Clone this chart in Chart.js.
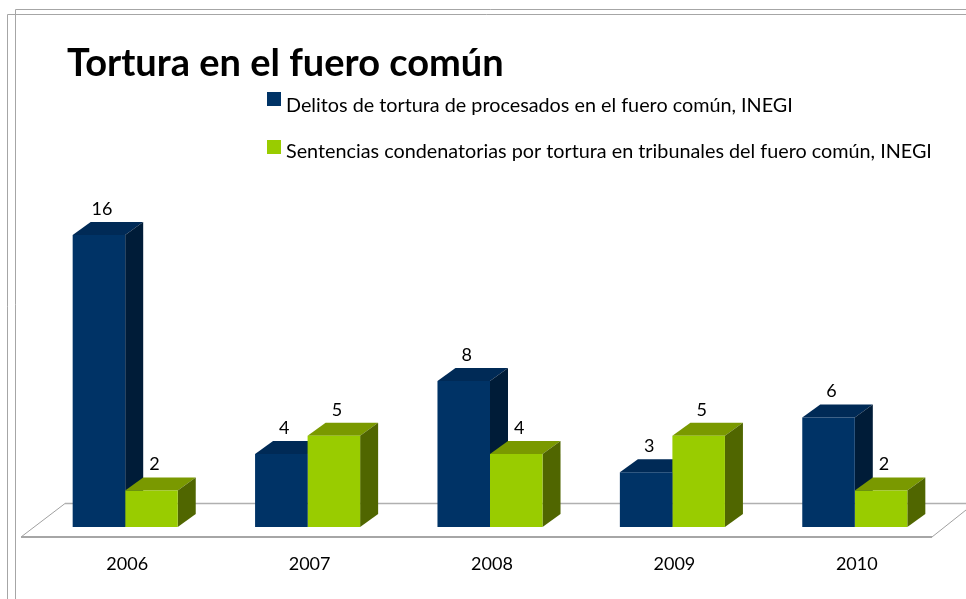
<!DOCTYPE html>
<html>
<head>
<meta charset="utf-8">
<title>Tortura en el fuero común</title>
<script src="https://cdn.jsdelivr.net/npm/chart.js@4"></script>
<style>
    html, body { margin: 0; padding: 0; background: #fff; }
    canvas { display: block; }
</style>
</head>
<body>
<canvas id="grafica" width="966" height="599"></canvas>
<script>
const years = ['2006', '2007', '2008', '2009', '2010'];
const delitos = [16, 4, 8, 3, 6];
const sentencias = [2, 5, 4, 5, 2];
const serieDelitos = 'Delitos de tortura de procesados en el fuero común, INEGI';
const serieSentencias = 'Sentencias condenatorias por tortura en tribunales del fuero común, INEGI';
const titulo = 'Tortura en el fuero común';

const FONT = 'Lato, Carlito, Calibri, sans-serif';
const DEPTH_X = 18;
const DEPTH_Y = 13;

// faces of each bar: top colour, side colour
const faces = [
    { top: '#002a56', side: '#001c38' },
    { top: '#7a9900', side: '#506600' }
];

function poly(ctx, pts, color) {
    ctx.fillStyle = color;
    ctx.beginPath();
    pts.forEach((p, i) => i === 0 ? ctx.moveTo(p[0], p[1]) : ctx.lineTo(p[0], p[1]));
    ctx.closePath();
    ctx.fill();
}

function line(ctx, x1, y1, x2, y2, width, color) {
    ctx.strokeStyle = color;
    ctx.lineWidth = width;
    ctx.beginPath();
    ctx.moveTo(x1, y1);
    ctx.lineTo(x2, y2);
    ctx.stroke();
}

const look3d = {
    id: 'look3d',
    afterLayout(chart) {
        chart.titleBlock.left = 67;
    },
    beforeDraw(chart) {
        const ctx = chart.ctx;
        ctx.save();
        // the two frames behind the chart
        line(ctx, 7.5, 14.5, 7.5, 599, 1, '#a6a6a6');
        line(ctx, 7.5, 14.5, 966, 14.5, 1, '#a6a6a6');
        line(ctx, 15.5, 9.5, 15.5, 599, 1, '#a6a6a6');
        line(ctx, 15.5, 9.5, 966, 9.5, 1, '#a6a6a6');
        // floor
        const b = chart.chartArea.bottom;
        line(ctx, 65, b - 23.5, 966, b - 23.5, 1.5, '#b0b0b0');
        line(ctx, 21, b + 10, 65, b - 23.5, 1, '#a0a0a0');
        line(ctx, 932, b + 10, 966, b - 17, 1, '#a0a0a0');
        line(ctx, 21, b + 10, 932, b + 10, 2, '#a6a6a6');
        ctx.restore();
    },
    beforeDatasetsDraw(chart) {
        // chart.js paints the fronts last dataset first, so all faces go in before them
        const ctx = chart.ctx;
        faces.forEach((f, i) => {
            chart.getDatasetMeta(i).data.forEach(bar => {
                const l = bar.x - bar.width / 2;
                const r = bar.x + bar.width / 2;
                poly(ctx, [[l, bar.y], [l + DEPTH_X, bar.y - DEPTH_Y], [r + DEPTH_X, bar.y - DEPTH_Y], [r, bar.y]], f.top);
                poly(ctx, [[r, bar.y], [r + DEPTH_X, bar.y - DEPTH_Y], [r + DEPTH_X, bar.base - DEPTH_Y], [r, bar.base]], f.side);
            });
        });
    },
    afterDatasetsDraw(chart) {
        const ctx = chart.ctx;
        ctx.save();
        ctx.font = '18px ' + FONT;
        ctx.fillStyle = '#000';
        ctx.textAlign = 'center';
        ctx.textBaseline = 'middle';
        chart.data.datasets.forEach((ds, i) => {
            chart.getDatasetMeta(i).data.forEach((bar, j) => {
                ctx.fillText(ds.data[j], bar.x + 3, bar.y - 26);
            });
        });
        // legend, stacked right below the title
        ctx.font = '19.8px ' + FONT;
        ctx.textAlign = 'left';
        chart.data.datasets.forEach((ds, i) => {
            const y = 92 + i * 48;
            ctx.fillStyle = ds.backgroundColor;
            ctx.fillRect(267, y, 14, 14);
            ctx.fillStyle = '#000';
            ctx.fillText(ds.label, 286, y + 14 - i * 2);
        });
        ctx.restore();
    }
};

new Chart(document.getElementById('grafica'), {
    type: 'bar',
    data: {
        labels: years,
        datasets: [
            { label: serieDelitos, data: delitos, backgroundColor: '#003366' },
            { label: serieSentencias, data: sentencias, backgroundColor: '#99cc00' }
        ]
    },
    options: {
        responsive: false,
        animation: false,
        layout: { padding: { left: 34, right: 20, top: 0, bottom: 0 } },
        datasets: { bar: { barPercentage: 1, categoryPercentage: 0.576 } },
        plugins: {
            legend: { display: false },
            tooltip: { enabled: false },
            title: {
                display: true,
                text: titulo,
                align: 'start',
                color: '#000',
                font: { family: FONT, size: 38, weight: 'bold', lineHeight: 1.2 },
                padding: { top: 41, bottom: 148.4 }
            }
        },
        scales: {
            x: {
                grid: { display: false },
                border: { display: false },
                afterFit(scale) { scale.height = 72; },
                ticks: { color: '#000', padding: 18, labelOffset: 2, font: { family: FONT, size: 18 } }
            },
            y: { display: false, min: 0, max: 16 }
        }
    },
    plugins: [look3d]
});
</script>
</body>
</html>
